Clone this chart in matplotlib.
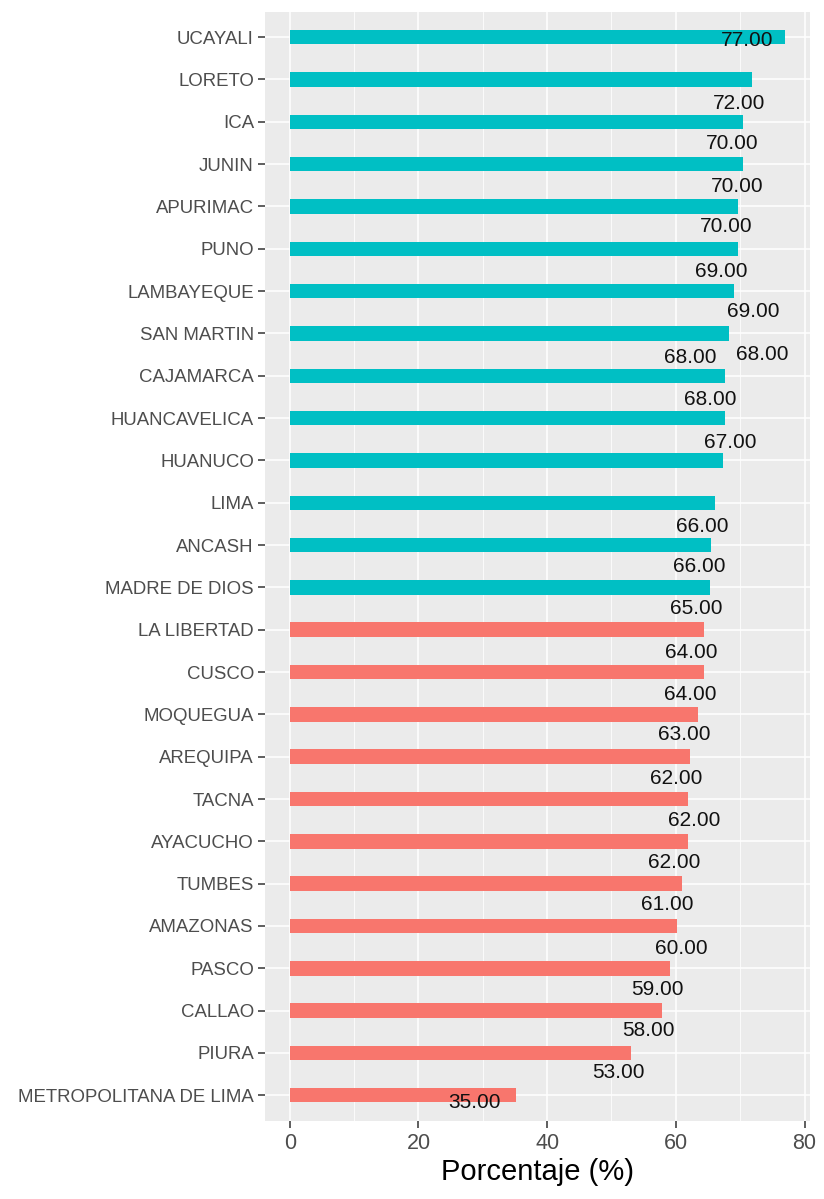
import matplotlib
matplotlib.use("Agg")
import matplotlib.pyplot as plt
from matplotlib.ticker import MultipleLocator

plt.rcParams['font.family'] = ['Liberation Sans', 'DejaVu Sans']

# ---- data (top to bottom) ----
regions = ["UCAYALI", "LORETO", "ICA", "JUNIN", "APURIMAC", "PUNO", "LAMBAYEQUE",
           "SAN MARTIN", "CAJAMARCA", "HUANCAVELICA", "HUANUCO", "LIMA", "ANCASH",
           "MADRE DE DIOS", "LA LIBERTAD", "CUSCO", "MOQUEGUA", "AREQUIPA", "TACNA",
           "AYACUCHO", "TUMBES", "AMAZONAS", "PASCO", "CALLAO", "PIURA",
           "METROPOLITANA DE LIMA"]
values = [77.0, 71.85, 70.5, 70.5, 69.6, 69.6, 69.0, 68.3, 67.7, 67.7, 67.4, 66.1,
          65.5, 65.3, 64.3, 64.3, 63.4, 62.2, 61.85, 61.85, 60.9, 60.25, 59.05,
          57.8, 53.1, 35.1]
value_labels = ["77.00", "72.00", "70.00", "70.00", "70.00", "69.00", "69.00",
                "68.00", "68.00", "68.00", "67.00", "66.00", "66.00", "65.00",
                "64.00", "64.00", "63.00", "62.00", "62.00", "62.00", "61.00",
                "60.00", "59.00", "58.00", "53.00", "35.00"]
groups = ["high"] * 14 + ["low"] * 12

# label placement offsets (jittered in the original), in data units
label_dx = [-5.9, -2.05, -1.7, -0.9, -1.7, -2.6, 3.1, 5.1, -5.4, -2.4, 1.0, -2.0,
            -1.8, -2.1, -1.9, -2.1, -2.1, -2.1, 0.95, -2.15, -2.2, 0.65, -1.85,
            -2.1, -2.0, -6.4]
label_dy = [0.09, 0.56, 0.51, 0.53, 0.47, 0.54, 0.48, 0.51, -0.42, -0.43, -0.43,
            0.56, 0.50, 0.49, 0.55, 0.53, 0.48, 0.52, 0.51, 0.49, 0.49, 0.53,
            0.50, 0.48, 0.47, 0.18]

colors = {"high": "#00BFC4", "low": "#F8766D"}

fig = plt.figure(figsize=(8.24, 11.99), dpi=100)
ax = fig.add_axes([265 / 824, 1 - 1120.7 / 1199, (810 - 265) / 824, (1120.7 - 11.7) / 1199])
ax.set_facecolor("#EBEBEB")

ypos = list(range(len(regions)))
ax.barh(ypos, values, height=0.34, color=[colors[g] for g in groups], zorder=3)

for i, (v, lab) in enumerate(zip(values, value_labels)):
    ax.text(v + label_dx[i], i + label_dy[i], lab, ha="center", va="center",
            fontsize=15, color="#111111", zorder=4)

ax.set_xlim(-3.85, 80.85)
ax.set_ylim(len(regions) - 1 + 0.6, -0.6)

ax.xaxis.set_major_locator(MultipleLocator(20))
ax.xaxis.set_minor_locator(MultipleLocator(10))
ax.set_yticks(ypos)
ax.set_yticklabels(regions)

ax.grid(which="major", axis="both", color="white", linewidth=1.1, zorder=1)
ax.grid(which="minor", axis="x", color="white", linewidth=0.55, zorder=1)
ax.set_axisbelow(True)

for s in ax.spines.values():
    s.set_visible(False)

ax.tick_params(axis="y", which="major", length=5, width=1.1, color="#333333",
               labelsize=13.4, labelcolor="#4D4D4D", pad=3)
ax.tick_params(axis="x", which="major", length=5, width=1.1, color="#333333",
               labelsize=15.5, labelcolor="#4D4D4D", pad=4)
ax.tick_params(axis="x", which="minor", length=0)

ax.set_xlabel("Porcentaje (%)", fontsize=21, color="black", labelpad=3)

fig.savefig("out.png", dpi=100)
